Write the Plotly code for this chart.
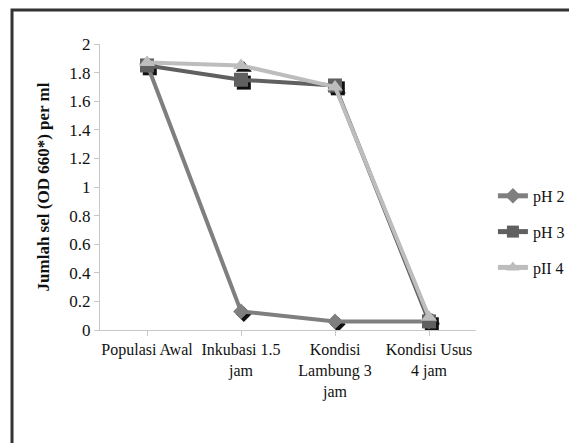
import plotly.graph_objects as go

categories = ["Populasi Awal", "Inkubasi 1.5<br>jam", "Kondisi<br>Lambung 3<br>jam", "Kondisi Usus<br>4 jam"]
ph2 = [1.86, 0.13, 0.06, 0.06]
ph3 = [1.85, 1.75, 1.71, 0.06]
ph4 = [1.87, 1.85, 1.70, 0.09]
series_names = ["pH 2", "pH 3", "pII 4"]

colors = ["#7f7f7f", "#606060", "#bdbdbd"]
symbols = ["diamond", "square", "triangle-up"]
sizes = [12, 14, 14]
data = [ph2, ph3, ph4]

fig = go.Figure()
xi = list(range(len(categories)))

# shadow markers on the base (hidden, slightly shifted) axis pair
for vals, sym, sz in zip(data, symbols, sizes):
    fig.add_trace(go.Scatter(x=xi, y=vals, mode="markers", xaxis="x", yaxis="y",
                             marker=dict(symbol=sym, size=sz, color="#111111"),
                             showlegend=False, hoverinfo="skip"))

# main series on the overlaid (visible) axis pair
for i, (name, vals, c, sym, sz) in enumerate(zip(series_names, data, colors, symbols, sizes)):
    fig.add_trace(go.Scatter(x=xi, y=vals, name=name, mode="lines+markers",
                             xaxis="x2", yaxis="y2", legendgroup=f"g{i}",
                             line=dict(color=c, width=4),
                             marker=dict(symbol=sym, size=sz, color=c, line=dict(width=0))))

font_family = "Liberation Serif, DejaVu Serif, serif"
fig.update_layout(
    width=577, height=443,
    margin=dict(l=92, r=109, t=36, b=121),
    paper_bgcolor="white", plot_bgcolor="white",
    font=dict(family=font_family, color="#111111", size=16),
    xaxis=dict(range=[-0.5 - 0.03, 3.5 - 0.03], visible=False, showgrid=False, zeroline=False),
    yaxis=dict(range=[0 + 0.02, 2 + 0.02], visible=False, showgrid=False, zeroline=False),
    xaxis2=dict(overlaying="x", anchor="y2", side="bottom", tickmode="array", tickvals=xi, ticktext=categories,
                range=[-0.5, 3.5], showgrid=False, zeroline=False, showline=True, linecolor="#c8c8c8",
                linewidth=1, ticks="outside", ticklen=5, tickcolor="#c8c8c8", tickson="boundaries",
                tickfont=dict(size=16)),
    yaxis2=dict(overlaying="y", anchor="x2", side="left", range=[0, 2], dtick=0.2, showgrid=False,
                zeroline=False, showline=True, linecolor="#c8c8c8", linewidth=1, ticks="outside",
                ticklen=5, tickcolor="#c8c8c8", tickfont=dict(size=17), tickformat="~g",
                title=dict(text="<b>Jumlah sel (OD 660*) per ml</b>", font=dict(size=17), standoff=15)),
    legend=dict(x=1.045, y=0.343, xanchor="left", yanchor="middle", font=dict(size=16),
                bgcolor="rgba(0,0,0,0)", tracegroupgap=12, itemwidth=30, itemsizing="constant"),
    showlegend=True,
    shapes=[dict(type="rect", xref="paper", yref="paper", x0=-0.234, x1=1.6, y0=-1.0, y1=1.119,
                 line=dict(color="#333333", width=3), fillcolor="rgba(0,0,0,0)", layer="above")],
)

fig.write_html("out.html")
